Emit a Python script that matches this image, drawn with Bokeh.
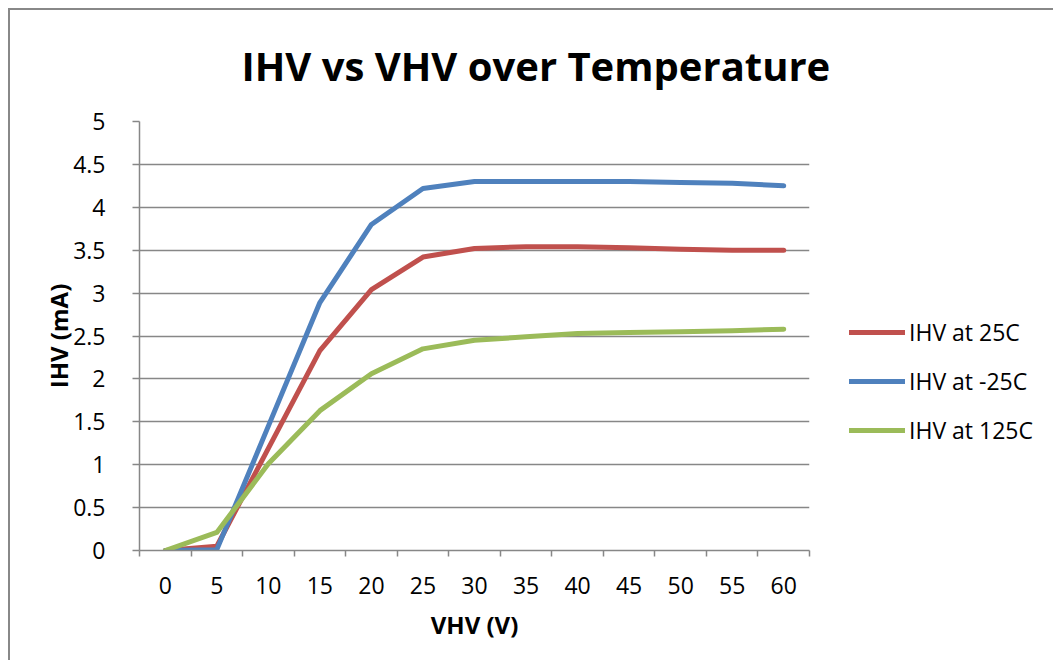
from bokeh.plotting import figure
from bokeh.models import Range1d, FixedTicker, Legend, LegendItem, Title
from bokeh.embed import file_html
from bokeh.resources import INLINE

# ---- data ----
volts = [0, 5, 10, 15, 20, 25, 30, 35, 40, 45, 50, 55, 60]
vhv_labels = ["0", "5", "10", "15", "20", "25", "30", "35", "40", "45", "50", "55", "60"]
ihv_25c = [0.0, 0.05, 1.19, 2.33, 3.04, 3.42, 3.52, 3.54, 3.54, 3.53, 3.51, 3.50, 3.50]
ihv_m25c = [0.0, 0.01, 1.45, 2.89, 3.80, 4.22, 4.30, 4.30, 4.30, 4.30, 4.29, 4.28, 4.25]
ihv_125c = [0.0, 0.21, 1.01, 1.63, 2.06, 2.35, 2.45, 2.49, 2.53, 2.54, 2.55, 2.56, 2.58]
y_ticks = [0, 0.5, 1, 1.5, 2, 2.5, 3, 3.5, 4, 4.5, 5]
y_tick_labels = ["0", "0.5", "1", "1.5", "2", "2.5", "3", "3.5", "4", "4.5", "5"]
series_names = ["IHV at 25C", "IHV at -25C", "IHV at 125C"]
series_colors = ["#C0504D", "#4F81BD", "#9BBB59"]
title_text = "IHV vs VHV over Temperature"

FONT = "Open Sans"
GRAY = "#878787"

step = volts[1] - volts[0]
bounds = [v - step / 2 for v in volts] + [volts[-1] + step / 2]

p = figure(frame_width=670, frame_height=429, output_backend="svg", toolbar_location=None,
           x_range=Range1d(bounds[0], bounds[-1]), y_range=Range1d(y_ticks[0], y_ticks[-1]),
           min_border_left=129, min_border_top=110, min_border_right=236, min_border_bottom=110)
p.styles = {"margin-left": "8px", "margin-top": "8px",
            "border-left": "2px solid #888888", "border-top": "2px solid #888888"}
p.outline_line_color = None
p.background_fill_color = "white"
p.border_fill_color = "white"

renderers = []
for ys, c in zip([ihv_25c, ihv_m25c, ihv_125c], series_colors):
    r = p.line(volts, ys, line_color=c, line_width=5, line_cap="round", line_join="round")
    renderers.append(r)

# x axis: labels at category centres, ticks on category boundaries
xa = p.xaxis[0]
xa.ticker = FixedTicker(ticks=volts, minor_ticks=bounds)
xa.major_label_overrides = {v: s for v, s in zip(volts, vhv_labels)}
xa.major_tick_line_color = None
xa.major_tick_out = 0
xa.major_tick_in = 0
xa.minor_tick_line_color = GRAY
xa.minor_tick_line_width = 1.5
xa.minor_tick_out = 6
xa.minor_tick_in = 0
xa.axis_line_color = GRAY
xa.axis_line_width = 1.5
xa.major_label_standoff = 20
xa.major_label_text_font = FONT
xa.major_label_text_font_size = "23px"
xa.major_label_text_color = "black"
xa.axis_label = "VHV (V)"
xa.axis_label_text_font = FONT
xa.axis_label_text_font_size = "24px"
xa.axis_label_text_font_style = "bold"
xa.axis_label_text_color = "black"
xa.axis_label_standoff = 11

ya = p.yaxis[0]
ya.ticker = FixedTicker(ticks=y_ticks, minor_ticks=[])
ya.major_label_overrides = {v: s for v, s in zip(y_ticks, y_tick_labels)}
ya.major_tick_line_color = GRAY
ya.major_tick_line_width = 1.5
ya.major_tick_out = 7
ya.major_tick_in = 0
ya.axis_line_color = GRAY
ya.axis_line_width = 1.5
ya.major_label_standoff = 27
ya.major_label_text_font = FONT
ya.major_label_text_font_size = "23px"
ya.major_label_text_color = "black"
ya.axis_label = "IHV (mA)"
ya.axis_label_text_font = FONT
ya.axis_label_text_font_size = "24px"
ya.axis_label_text_font_style = "bold"
ya.axis_label_text_color = "black"
ya.axis_label_standoff = -5

p.xgrid.grid_line_color = None
p.ygrid.grid_line_color = GRAY
p.ygrid.grid_line_width = 1.5

p.add_layout(Title(text=title_text, align="left", offset=102,
                   vertical_align="top",
                   text_font=FONT, text_font_size="40px", text_font_style="bold",
                   text_color="black", standoff=54), "above")

legend = Legend(items=[LegendItem(label=n, renderers=[r]) for n, r in zip(series_names, renderers)],
                location=(40, 104), glyph_width=56, glyph_height=20, label_height=20,
                label_standoff=4, spacing=17, padding=0, margin=0,
                border_line_color=None, background_fill_alpha=0,
                label_text_font=FONT, label_text_font_size="23px", label_text_color="black")
p.add_layout(legend, "right")

open("out.html", "w").write(file_html(p, INLINE))
